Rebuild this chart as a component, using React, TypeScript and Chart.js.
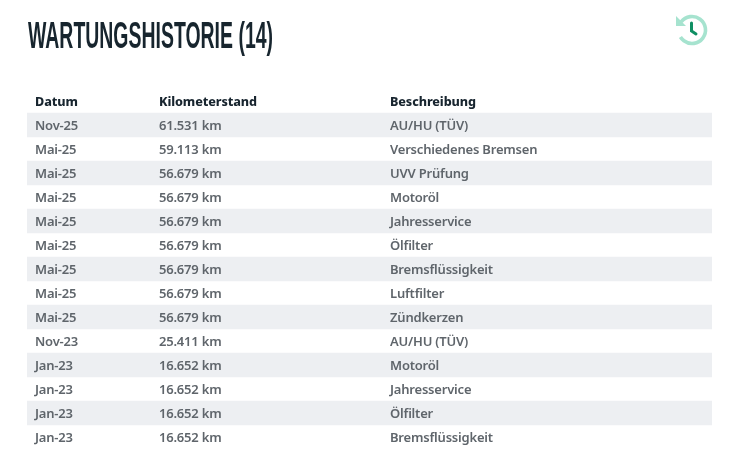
import { useEffect, useRef } from "react";
import { Chart } from "chart.js/auto";
import type { Plugin } from "chart.js";

const title = "WARTUNGSHISTORIE (14)";
const headers = ["Datum", "Kilometerstand", "Beschreibung"];
const dates = [
  "Nov-25", "Mai-25", "Mai-25", "Mai-25", "Mai-25", "Mai-25", "Mai-25",
  "Mai-25", "Mai-25", "Nov-23", "Jan-23", "Jan-23", "Jan-23", "Jan-23",
];
const mileage = [
  "61.531 km", "59.113 km", "56.679 km", "56.679 km", "56.679 km", "56.679 km", "56.679 km",
  "56.679 km", "56.679 km", "25.411 km", "16.652 km", "16.652 km", "16.652 km", "16.652 km",
];
const descriptions = [
  "AU/HU (TÜV)", "Verschiedenes Bremsen", "UVV Prüfung", "Motoröl", "Jahresservice", "Ölfilter",
  "Bremsflüssigkeit", "Luftfilter", "Zündkerzen", "AU/HU (TÜV)", "Motoröl", "Jahresservice",
  "Ölfilter", "Bremsflüssigkeit",
];
// stripes: header row none, then every other row
const stripes = [null, 1, null, 1, null, 1, null, 1, null, 1, null, 1, null, 1, null];
const rowLabels = ["header", ...dates.map((_, i) => `row${i}`)];
const columnStarts = [8, 132, 363];
const tableWidth = 685;

const FONT = '"Noto Sans", sans-serif';

const tablePlugin: Plugin<"bar"> = {
  id: "tableText",
  afterDatasetsDraw(chart) {
    const { ctx, scales } = chart;
    const x = scales.x;
    const y = scales.y;
    ctx.save();
    ctx.textBaseline = "middle";
    ctx.textAlign = "left";

    ctx.font = `800 12.6px ${FONT}`;
    ctx.letterSpacing = "-0.1px";
    ctx.fillStyle = "#18252f";
    headers.forEach((h, c) => {
      ctx.fillText(h, x.getPixelForValue(columnStarts[c]), y.getPixelForValue(0) + 1);
    });

    ctx.font = `600 13px ${FONT}`;
    ctx.letterSpacing = "-0.2px";
    ctx.fillStyle = "#5f656b";
    [dates, mileage, descriptions].forEach((col, c) => {
      col.forEach((text, r) => {
        ctx.fillText(text, x.getPixelForValue(columnStarts[c]), y.getPixelForValue(r + 1) + 1);
      });
    });
    ctx.letterSpacing = "0px";

    // title is a tall condensed face, so squeeze a narrow font to the same width
    ctx.font = `700 37px "Liberation Sans Narrow", "Liberation Sans", sans-serif`;
    ctx.fillStyle = "#17252e";
    ctx.textBaseline = "alphabetic";
    const w = ctx.measureText(title).width;
    ctx.translate(28, 48);
    ctx.scale(245 / w, 1);
    ctx.fillText(title, 0, 0);
    ctx.restore();

    // history icon
    ctx.save();
    ctx.translate(692, 30);
    ctx.strokeStyle = "#a6e3cf";
    ctx.lineWidth = 3.6;
    ctx.beginPath();
    ctx.arc(0, 0, 13.5, -2.5, 2.6);
    ctx.stroke();
    ctx.fillStyle = "#a6e3cf";
    ctx.beginPath();
    ctx.moveTo(-16, -14);
    ctx.lineTo(-16, -4);
    ctx.lineTo(-6, -4);
    ctx.closePath();
    ctx.fill();
    ctx.strokeStyle = "#0f8f63";
    ctx.lineWidth = 3;
    ctx.lineCap = "round";
    ctx.beginPath();
    ctx.moveTo(-0.5, -7);
    ctx.lineTo(-0.5, 1);
    ctx.lineTo(4, 4);
    ctx.stroke();
    ctx.restore();
  },
};

export default function App() {
  const canvasRef = useRef<HTMLCanvasElement | null>(null);

  useEffect(() => {
    if (!canvasRef.current) return;
    const chart = new Chart(canvasRef.current, {
      type: "bar",
      data: {
        labels: rowLabels,
        datasets: [
          {
            // each stripe runs across the whole table
            data: stripes.map((v) => (v ? tableWidth : null)),
            backgroundColor: "#edeff2",
            barPercentage: 1,
            categoryPercentage: 1,
          },
        ],
      },
      options: {
        indexAxis: "y",
        responsive: false,
        animation: false,
        layout: { padding: { left: 27, right: 31, top: 89, bottom: 21 } },
        plugins: { legend: { display: false }, tooltip: { enabled: false } },
        scales: {
          x: { display: false, min: 0, max: tableWidth },
          y: { display: false },
        },
      },
      plugins: [tablePlugin],
    });
    return () => {
      chart.destroy();
    };
  }, []);

  return (
    <div style={{ position: "fixed", left: 0, top: 0, width: 743, height: 470, background: "#fff" }}>
      <canvas ref={canvasRef} width={743} height={470} style={{ display: "block" }} />
    </div>
  );
}
